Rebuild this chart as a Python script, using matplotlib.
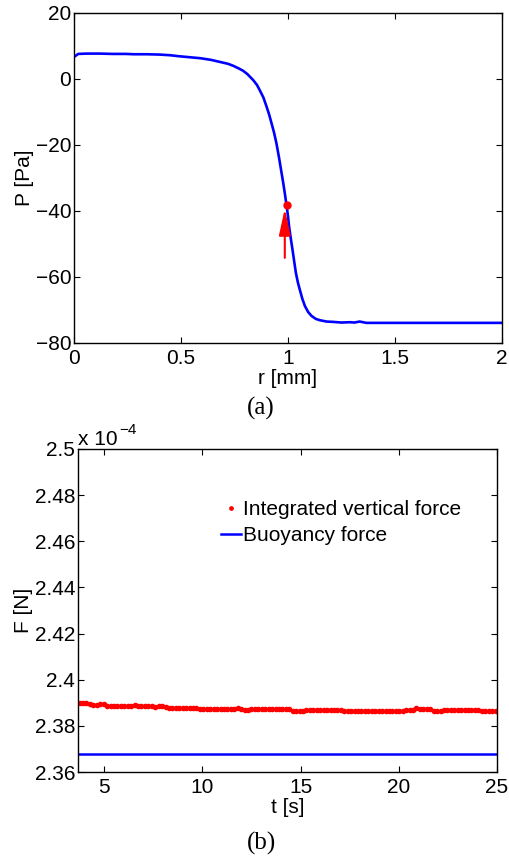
import numpy as np
import matplotlib
matplotlib.use("Agg")
import matplotlib.pyplot as plt
from matplotlib.ticker import FixedLocator, FuncFormatter

plt.rcParams['font.family'] = ['Liberation Sans', 'DejaVu Sans']

# ---------------- data: panel (a) ----------------
r_mm = [0.0, 0.02, 0.06, 0.12, 0.18, 0.24, 0.28, 0.34, 0.40, 0.45, 0.49, 0.54,
        0.59, 0.64, 0.68, 0.72, 0.744, 0.77, 0.79, 0.81, 0.837, 0.855, 0.868,
        0.885, 0.90, 0.912, 0.923, 0.935, 0.946, 0.958, 0.97, 0.978, 0.985,
        0.993, 1.0, 1.005, 1.013, 1.021, 1.029, 1.037, 1.046, 1.055, 1.067,
        1.079, 1.094, 1.11, 1.13, 1.149, 1.18, 1.21, 1.25, 1.289, 1.31, 1.335,
        1.366, 1.45, 1.6, 1.8, 2.0]
P_pa = [6.7, 7.6, 7.7, 7.7, 7.6, 7.6, 7.5, 7.5, 7.4, 7.2, 6.9, 6.6,
        6.3, 5.8, 5.2, 4.6, 4.0, 3.2, 2.5, 1.5, -0.3, -1.8, -3.4,
        -5.6, -8.4, -10.8, -13.4, -16.3, -19.5, -23.8, -28.5, -31.6, -34.6,
        -38.2, -41.6, -44.7, -48.3, -51.7, -55.3, -58.8, -61.6, -63.8, -66.6,
        -68.8, -70.6, -71.8, -72.7, -73.1, -73.5, -73.6, -73.8, -73.7, -73.8, -73.5,
        -73.9, -73.9, -73.9, -73.9, -73.9]
marked_r, marked_P = 0.993, -38.2          # red dot
arrow_tail = (0.985, -54.2)                # red arrow start
arrow_tip = (0.985, -39.3)                 # red arrow end

# ---------------- data: panel (b) ----------------
t_s = np.round(3.75 + 0.175 * np.arange(122), 3)
F_int = [2.3897, 2.3897, 2.3897, 2.3896,
         2.3892, 2.3892, 2.3893, 2.3893,
         2.3885, 2.3884, 2.3885, 2.3885, 2.3884, 2.3885, 2.3884, 2.3886,
         2.3891,
         2.3885, 2.3884, 2.3884, 2.3884, 2.3884, 2.3883, 2.3884, 2.3884, 2.3883,
         2.3877, 2.3878, 2.3878, 2.3879, 2.3878, 2.3879, 2.3879, 2.3878, 2.3879,
         2.3873, 2.3872, 2.3872, 2.3873, 2.3873, 2.3873, 2.3874, 2.3874, 2.3874,
         2.3874, 2.3875, 2.3876,
         2.3871, 2.3870, 2.3870, 2.3871, 2.3871, 2.3871, 2.3871, 2.3871, 2.3872,
         2.3872, 2.3872, 2.3873, 2.3873, 2.3874, 2.3874,
         2.3866, 2.3866, 2.3866, 2.3866, 2.3867, 2.3867, 2.3867, 2.3867, 2.3867,
         2.3867, 2.3868, 2.3868, 2.3868, 2.3869, 2.3869,
         2.3864, 2.3863, 2.3863, 2.3863, 2.3864, 2.3864, 2.3864, 2.3864, 2.3864,
         2.3865, 2.3865, 2.3865, 2.3865, 2.3865, 2.3865, 2.3866, 2.3866, 2.3866,
         2.3867, 2.3867, 2.3867,
         2.3878,
         2.3873, 2.3872, 2.3872, 2.3872,
         2.3866, 2.3866, 2.3866, 2.3867, 2.3867, 2.3867, 2.3867, 2.3867,
         2.3867, 2.3868, 2.3868, 2.3868, 2.3868, 2.3868,
         2.3866, 2.3865, 2.3866, 2.3866, 2.3866]   # x 1e-4 N
F_buoy = 2.3678                                       # x 1e-4 N

a_xticks = [0, 0.5, 1, 1.5, 2]
a_yticks = [20, 0, -20, -40, -60, -80]
b_xticks = [5, 10, 15, 20, 25]
b_yticks = [2.36, 2.38, 2.40, 2.42, 2.44, 2.46, 2.48, 2.50]

W, H = 509, 860
fig = plt.figure(figsize=(W / 100, H / 100), dpi=100)

def px_axes(l, t, r, b):
    return fig.add_axes([l / W, 1 - b / H, (r - l) / W, (b - t) / H])

FS = 15

def style(ax):
    ax.tick_params(direction='in', top=True, right=True, length=4.5, width=0.8,
                   labelsize=FS)
    ax.tick_params(axis='x', pad=4)
    ax.tick_params(axis='y', pad=2)
    for s in ax.spines.values():
        s.set_linewidth(1.0)

fmt = FuncFormatter(lambda v, p: ('%g' % round(v, 4)).replace('-', '\u2212'))

# ---------- panel (a) ----------
ax1 = px_axes(74, 13, 502, 343)
ax1.plot(r_mm, P_pa, color='#0000ff', lw=1.9)
ax1.plot([marked_r], [marked_P], 'o', color='#ff0000', ms=5)
ax1.annotate('', xy=arrow_tip, xytext=arrow_tail,
             arrowprops=dict(arrowstyle='-|>,head_length=1.6,head_width=0.35',
                             color='#ff0000', lw=1.5, mutation_scale=10,
                             shrinkA=0, shrinkB=0))
ax1.set_xlim(0, 2)
ax1.set_ylim(-80, 20)
ax1.xaxis.set_major_locator(FixedLocator(a_xticks))
ax1.yaxis.set_major_locator(FixedLocator(a_yticks))
ax1.xaxis.set_major_formatter(fmt)
ax1.yaxis.set_major_formatter(fmt)
style(ax1)
ax1.set_xlabel('r [mm]', fontsize=FS, labelpad=1)
ax1.set_ylabel('P [Pa]', fontsize=FS, labelpad=1)

# ---------- panel (b) ----------
ax2 = px_axes(78, 449, 497, 772)
ax2.plot(t_s, F_int, '.', color='#ff0000', ms=6, label='Integrated vertical force')
ax2.axhline(F_buoy, color='#0000ff', lw=1.8, label='Buoyancy force')
ax2.set_xlim(3.67, 25)
ax2.set_ylim(2.36, 2.50)
ax2.xaxis.set_major_locator(FixedLocator(b_xticks))
ax2.yaxis.set_major_locator(FixedLocator(b_yticks))
ax2.xaxis.set_major_formatter(fmt)
ax2.yaxis.set_major_formatter(fmt)
style(ax2)
ax2.set_xlabel('t [s]', fontsize=FS, labelpad=1)
ax2.set_ylabel('F [N]', fontsize=FS, labelpad=1)
leg = ax2.legend(loc='upper left', bbox_to_anchor=(221 / W, 1 - 500 / H),
                 bbox_transform=fig.transFigure, frameon=False, fontsize=15,
                 handlelength=0.95, handletextpad=0.12, labelspacing=0.33,
                 borderpad=0, borderaxespad=0, numpoints=1, markerscale=0.8)

fig.text(78 / W, 1 - 445 / H, 'x 10', fontsize=FS, ha='left', va='baseline')
fig.text(119 / W, 1 - 434 / H, '\u22124', fontsize=11, ha='left', va='baseline')

# captions
fig.text(261 / W, 1 - 408 / H, '(a)', fontsize=18, family='Liberation Serif',
         ha='center', va='center')
fig.text(261 / W, 1 - 843 / H, '(b)', fontsize=18, family='Liberation Serif',
         ha='center', va='center')

fig.savefig('out.png', dpi=100)
